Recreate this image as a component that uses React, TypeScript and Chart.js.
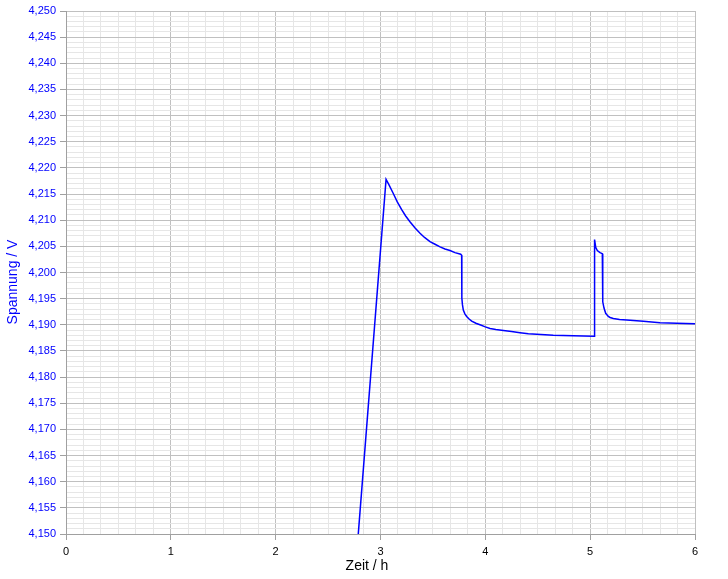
import { useEffect, useRef } from 'react';
import { Chart, ChartConfiguration, registerables } from 'chart.js';

Chart.register(...registerables);

const timeH = [
  2.75, 3.053, 3.08, 3.122, 3.16, 3.202, 3.24, 3.281, 3.33, 3.377, 3.42, 3.472, 3.52,
  3.568, 3.615, 3.663, 3.71, 3.765, 3.774,
  3.776, 3.782, 3.790, 3.805, 3.822, 3.845, 3.870, 3.91, 3.949, 4.0, 4.045, 4.10, 4.172,
  4.25, 4.331, 4.41, 4.490, 4.648, 4.839, 5.037,
  5.042, 5.053, 5.068, 5.094, 5.116, 5.119, 5.121, 5.132, 5.148, 5.173, 5.19, 5.221,
  5.28, 5.349, 5.507, 5.666, 5.826, 6.0,
];
const voltage = [
  4.1403, 4.2178, 4.2168, 4.2151, 4.2135, 4.2120, 4.2108, 4.2097, 4.2085, 4.2075, 4.2067, 4.2059, 4.2054,
  4.2049, 4.2045, 4.2042, 4.2038, 4.2035, 4.2033,
  4.1951, 4.1938, 4.1928, 4.1921, 4.1916, 4.1911, 4.1907, 4.1903, 4.1900, 4.1896, 4.1893, 4.1891, 4.1889,
  4.1887, 4.1885, 4.1883, 4.1882, 4.1880, 4.1879, 4.1878,
  4.2063, 4.2048, 4.2042, 4.2038, 4.2036, 4.2035, 4.1944, 4.1932, 4.1922, 4.1916, 4.1914, 4.1912,
  4.1910, 4.1909, 4.1907, 4.1904, 4.1903, 4.1902,
];

const xTitle = 'Zeit / h';
const yTitle = 'Spannung / V';
const xRange = [0, 6];
const yRange = [4.15, 4.25];

const fontFamily = '"Liberation Sans", Arial, sans-serif';
const majorGrid = '#c0c0c0';
const minorGrid = '#e6e6e6';
const axisGray = '#a0a0a0';
const blue = '#0000ff';

// draws both axis titles at the spots the original uses
const axisTitles = {
  id: 'axisTitles',
  afterDraw(chart: Chart) {
    const { ctx, chartArea } = chart;
    ctx.save();
    ctx.font = `14px ${fontFamily}`;
    ctx.textAlign = 'center';
    ctx.textBaseline = 'middle';
    ctx.fillStyle = '#000000';
    ctx.fillText(xTitle, chartArea.left + 301, chartArea.bottom + 32);
    ctx.translate(13, chartArea.top + 271);
    ctx.rotate(-Math.PI / 2);
    ctx.fillStyle = blue;
    ctx.fillText(yTitle, 0, 0);
    ctx.restore();
  },
};

export default function App() {
  const canvasRef = useRef<HTMLCanvasElement>(null);
  const chartRef = useRef<Chart | null>(null);

  useEffect(() => {
    document.body.style.margin = '0';
    if (!canvasRef.current) return;
    if (chartRef.current) chartRef.current.destroy();

    const config: ChartConfiguration = {
      type: 'line',
      data: {
        datasets: [{
          data: timeH.map((t, i) => ({ x: t, y: voltage[i] })),
          borderColor: blue,
          borderWidth: 1.5,
          pointRadius: 0,
          tension: 0,
          fill: false,
        }],
      },
      options: {
        animation: false,
        responsive: true,
        maintainAspectRatio: false,
        layout: { padding: { top: 11, right: 33, left: 0, bottom: 0 } },
        plugins: {
          legend: { display: false },
          tooltip: { enabled: false },
        },
        scales: {
          x: {
            type: 'linear',
            min: xRange[0],
            max: xRange[1],
            afterFit: (scale) => { scale.height = 45; },
            border: { color: axisGray },
            grid: {
              color: (c) => (c.index % 6 === 0 ? majorGrid : minorGrid),
              tickColor: (c) => (c.index % 6 === 0 ? axisGray : 'rgba(0,0,0,0)'),
              tickLength: 6,
            },
            ticks: {
              stepSize: 1 / 6,
              autoSkip: false,
              maxRotation: 0,
              padding: 5,
              color: '#000000',
              font: { family: fontFamily, size: 11 },
              callback: (_v, index) => (index % 6 === 0 ? String(index / 6) : ''),
            },
          },
          y: {
            type: 'linear',
            min: yRange[0],
            max: yRange[1],
            afterFit: (scale) => { scale.width = 66; },
            border: { color: axisGray },
            grid: {
              color: (c) => (c.index % 5 === 0 ? majorGrid : minorGrid),
              tickColor: (c) => (c.index % 5 === 0 ? axisGray : 'rgba(0,0,0,0)'),
              tickLength: 6,
            },
            ticks: {
              stepSize: 0.001,
              autoSkip: false,
              padding: 4,
              color: blue,
              font: { family: fontFamily, size: 11 },
              callback: (value, index) =>
                index % 5 === 0 ? Number(value).toFixed(3).replace('.', ',') : '',
            },
          },
        },
      },
      plugins: [axisTitles],
    };

    chartRef.current = new Chart(canvasRef.current, config);

    return () => {
      if (chartRef.current) {
        chartRef.current.destroy();
        chartRef.current = null;
      }
    };
  }, []);

  return (
    <div style={{ width: 728, height: 579, background: '#ffffff' }}>
      <canvas ref={canvasRef}></canvas>
    </div>
  );
}
